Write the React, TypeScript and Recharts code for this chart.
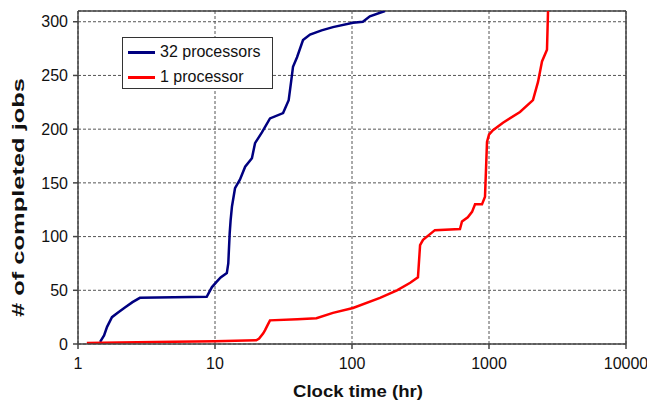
import React from 'react';
import { LineChart, Line, XAxis, YAxis, CartesianGrid, ReferenceLine } from 'recharts';

// Clock time (hr) and # of completed jobs
const blueHours = [1.45, 1.55, 1.63, 1.77, 1.95, 2.2, 2.5, 2.83, 5, 8.7, 9.5, 10.3, 11, 12.2, 12.5, 12.8, 13.0, 13.3, 14.0, 15.2, 16.6, 18.6, 19.6, 22.0, 25.2, 31.4, 34.5, 36.0, 37.1, 39.7, 43.9, 49.4, 60, 72.6, 101.7, 120, 135, 174];
const blueJobs = [2, 8, 16, 25, 29, 34, 39, 43, 43.5, 44, 53, 58, 62, 66, 75, 103, 115, 128, 145, 153, 165, 173, 187, 197, 210, 215, 227, 245, 258, 267, 283, 288, 292, 295, 299, 300, 305, 310];

const redHours = [1.16, 2, 5, 10, 20, 21, 22.5, 23.2, 24.3, 25.2, 40, 55, 72.6, 101.7, 160, 213, 266, 303, 314, 330, 403, 614, 635, 700, 752, 791, 889, 935, 967, 1000, 1069, 1265, 1683, 2094, 2279, 2437, 2650, 2697];
const redJobs = [1, 1.5, 2, 2.5, 3.5, 5, 10, 13, 18, 22, 23, 24, 29, 33.5, 43, 50, 57, 62, 92, 97, 106, 107, 114, 118, 123, 130, 130, 137, 188, 195, 199, 206, 216, 227, 244, 263, 274, 310];

const xTicks = [1, 10, 100, 1000, 10000];
const yTicks = [0, 50, 100, 150, 200, 250, 300];

const seriesNames = ['32 processors', '1 processor'];
const seriesColors = ['#000080', '#ff0000'];

const blueData = blueHours.map((x, i) => ({ x, y: blueJobs[i] }));
const redData = redHours.map((x, i) => ({ x, y: redJobs[i] }));

const FONT = '"Liberation Sans", Arial, sans-serif';

const LegendBox = () => (
  <div
    style={{
      position: 'absolute',
      left: 122,
      top: 37,
      width: 151,
      height: 52,
      boxSizing: 'border-box',
      border: '1.5px solid #333',
      background: '#fff',
      fontFamily: FONT,
      fontSize: 16,
      color: '#111',
    }}
  >
    {seriesNames.map((name, i) => (
      <div
        key={name}
        style={{ position: 'absolute', left: 5, top: 4 + i * 25, height: 20, display: 'flex', alignItems: 'center' }}
      >
        <div style={{ width: 27, height: 3, background: seriesColors[i], marginRight: 5 }} />
        <span style={{ lineHeight: '20px' }}>{name}</span>
      </div>
    ))}
  </div>
);

const XTitle = (props: any) => {
  const vb = props.viewBox || { x: 78, y: 344, width: 548, height: 57 };
  return (
    <text
      x={vb.x + vb.width / 2 + 6}
      y={vb.y + 53}
      textAnchor="middle"
      fontFamily={FONT}
      fontWeight="bold"
      fontSize={17}
      fill="#111"
      textLength={130}
      lengthAdjust="spacingAndGlyphs"
    >
      Clock time (hr)
    </text>
  );
};

const YTitle = (props: any) => {
  const vb = props.viewBox || { x: 0, y: 11, width: 78, height: 333 };
  const cx = 24;
  const cy = vb.y + vb.height / 2 + 20;
  return (
    <text
      x={cx}
      y={cy}
      transform={`rotate(-90 ${cx} ${cy})`}
      textAnchor="middle"
      fontFamily={FONT}
      fontWeight="bold"
      fontSize={17}
      fill="#111"
      textLength={239}
      lengthAdjust="spacingAndGlyphs"
    >
      # of completed jobs
    </text>
  );
};

export default function App() {
  return (
    <div style={{ position: 'absolute', left: 0, top: 0, width: 647, height: 401, background: '#fff' }}>
      <LineChart width={647} height={401} margin={{ top: 11, right: 21, bottom: 0, left: 0 }}>
        <CartesianGrid stroke="#555" strokeDasharray="3 2" strokeWidth={1} />
        <XAxis
          dataKey="x"
          type="number"
          scale="log"
          domain={[1, 10000]}
          ticks={xTicks}
          allowDataOverflow
          height={57}
          stroke="#444"
          strokeWidth={1.5}
          tickSize={5}
          tickMargin={9}
          tick={{ fill: '#111', fontSize: 16, fontFamily: FONT }}
          label={<XTitle />}
        />
        <YAxis
          dataKey="y"
          type="number"
          domain={[0, 310]}
          ticks={yTicks}
          allowDataOverflow
          width={78}
          stroke="#444"
          strokeWidth={1.5}
          tickSize={5}
          tickMargin={5}
          tick={{ fill: '#111', fontSize: 16, fontFamily: FONT }}
          label={<YTitle />}
        />
        <ReferenceLine y={310} stroke="#444" strokeWidth={1.5} />
        <ReferenceLine x={10000} stroke="#444" strokeWidth={1.5} />
        <Line
          data={blueData}
          dataKey="y"
          name={seriesNames[0]}
          stroke={seriesColors[0]}
          strokeWidth={2.5}
          dot={false}
          isAnimationActive={false}
          type="linear"
        />
        <Line
          data={redData}
          dataKey="y"
          name={seriesNames[1]}
          stroke={seriesColors[1]}
          strokeWidth={2.5}
          dot={false}
          isAnimationActive={false}
          type="linear"
        />
      </LineChart>
      <LegendBox />
    </div>
  );
}
